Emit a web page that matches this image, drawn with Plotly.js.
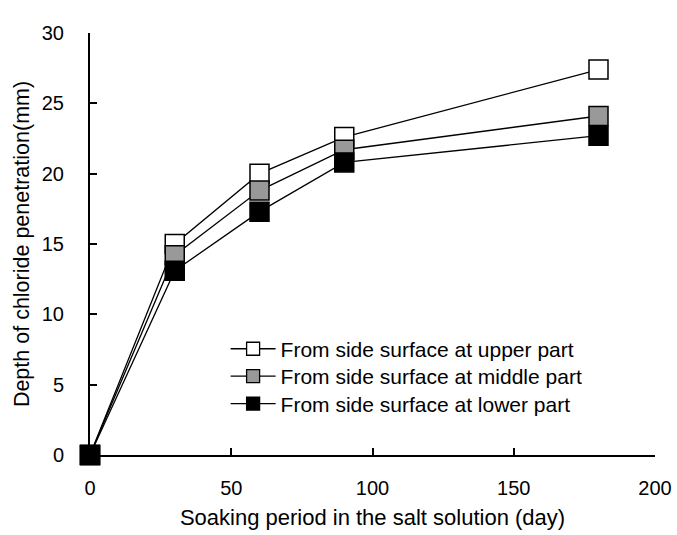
<!DOCTYPE html>
<html>
<head>
<meta charset="utf-8">
<script src="https://cdn.plot.ly/plotly-3.0.1.min.js"></script>
<style>html,body{margin:0;padding:0;background:#fff;}#chart{width:677px;height:535px;}</style>
</head>
<body>
<div id="chart"></div>
<script>
const days = [0, 30, 60, 90, 180];
const upperPart = [0, 15.0, 20.0, 22.6, 27.4];
const middlePart = [0, 14.2, 18.8, 21.7, 24.1];
const lowerPart = [0, 13.1, 17.3, 20.8, 22.7];
const seriesNames = [
  'From side surface at upper part',
  'From side surface at middle part',
  'From side surface at lower part'
];
const seriesFills = ['#ffffff', '#999999', '#000000'];
const seriesValues = [upperPart, middlePart, lowerPart];
const legendIds = ['legend', 'legend2', 'legend3'];
const legendRowsY = [0.251, 0.186, 0.121];

const traces = [];
seriesValues.forEach((vals, i) => {
  traces.push({
    x: days, y: vals, type: 'scatter', mode: 'lines+markers',
    showlegend: false, cliponaxis: false,
    line: {color: '#000', width: 1.3},
    marker: {symbol: 'square', size: 19, color: seriesFills[i], line: {color: '#000', width: 1.5}}
  });
});
seriesValues.forEach((vals, i) => {
  traces.push({
    x: [null], y: [null], type: 'scatter', mode: 'lines+markers',
    name: seriesNames[i], showlegend: true, legend: legendIds[i],
    line: {color: '#000', width: 1.3},
    marker: {symbol: 'square', size: 13, color: seriesFills[i], line: {color: '#000', width: 1.3}}
  });
});

const font = {family: '"Liberation Sans", Arial, sans-serif', color: '#000'};
const layout = {
  width: 677, height: 535,
  margin: {l: 90, r: 22, t: 33, b: 80},
  paper_bgcolor: '#fff', plot_bgcolor: '#fff',
  font: Object.assign({size: 20}, font),
  showlegend: true,
  xaxis: {
    range: [0, 200], dtick: 50, tick0: 0,
    showline: true, linecolor: '#000', linewidth: 2,
    ticks: 'inside', ticklen: 7, tickwidth: 2, tickcolor: '#000',
    showgrid: false, zeroline: false, mirror: false,
    tickfont: Object.assign({size: 20}, font), ticklabelstandoff: 14,
    title: {text: 'Soaking period in the salt solution (day)', font: Object.assign({size: 22}, font), standoff: 12}
  },
  yaxis: {
    range: [0, 30], dtick: 5, tick0: 0,
    showline: true, linecolor: '#000', linewidth: 2,
    ticks: 'inside', ticklen: 7, tickwidth: 2, tickcolor: '#000',
    showgrid: false, zeroline: false, mirror: false,
    tickfont: Object.assign({size: 20}, font), ticklabelstandoff: 20,
    title: {text: 'Depth of chloride penetration(mm)', font: Object.assign({size: 21.5}, font), standoff: 6}
  }
};
legendIds.forEach((id, i) => {
  layout[id] = {x: 0.24, y: legendRowsY[i], xanchor: 'left', yanchor: 'middle',
    bgcolor: 'rgba(0,0,0,0)', borderwidth: 0, itemwidth: 45,
    font: Object.assign({size: 21}, font)};
});
Plotly.newPlot('chart', traces, layout, {displayModeBar: false, staticPlot: true});
</script>
</body>
</html>
